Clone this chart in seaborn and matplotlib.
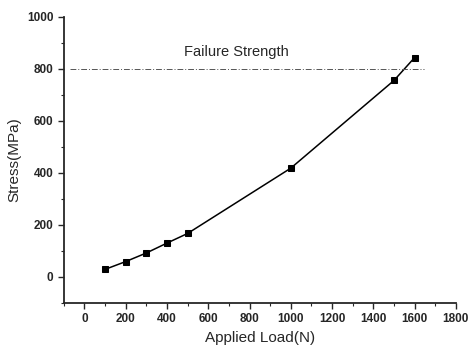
import numpy as np
import pandas as pd
import matplotlib
matplotlib.use("Agg")
import matplotlib.pyplot as plt
import seaborn as sns
from matplotlib.ticker import MultipleLocator

load = [100, 200, 300, 400, 500, 1000, 1500, 1600]
stress = [29, 59, 92, 130, 167, 418, 755, 843]
failure_strength = 800

df = pd.DataFrame({"Applied Load(N)": load, "Stress(MPa)": stress})

sns.set_style("ticks")
plt.rcParams['font.family'] = ['Liberation Sans', 'DejaVu Sans']

fig = plt.figure(figsize=(4.69, 3.49), dpi=100)
ax = fig.add_axes([0.136, 0.132, 0.836, 0.82])

sns.lineplot(data=df, x="Applied Load(N)", y="Stress(MPa)", ax=ax,
             color="black", linewidth=1.1, marker="s", markersize=5,
             markerfacecolor="black", markeredgecolor="black")

# failure strength reference line
ax.plot([-70, 1645], [failure_strength, failure_strength], color="#555555",
        linestyle=(0, (6, 2, 1, 2)), linewidth=0.7)
ax.text(738, 865, "Failure Strength", ha="center", va="center", fontsize=10.5)

ax.set_xlim(-100, 1800)
ax.set_ylim(-100, 1000)
ax.xaxis.set_major_locator(MultipleLocator(200))
ax.xaxis.set_minor_locator(MultipleLocator(100))
ax.yaxis.set_major_locator(MultipleLocator(200))
ax.yaxis.set_minor_locator(MultipleLocator(100))
ax.tick_params(which="major", length=4, width=1, labelsize=8.5, direction="out")
ax.tick_params(which="minor", length=2, width=0.8, direction="out")
for lbl in ax.get_xticklabels() + ax.get_yticklabels():
    lbl.set_fontweight("bold")
sns.despine(ax=ax)
for s in ["left", "bottom"]:
    ax.spines[s].set_linewidth(1.3)
ax.set_xlabel("Applied Load(N)", fontsize=11, labelpad=4)
ax.set_ylabel("Stress(MPa)", fontsize=11)

fig.savefig("out.png", dpi=100)
